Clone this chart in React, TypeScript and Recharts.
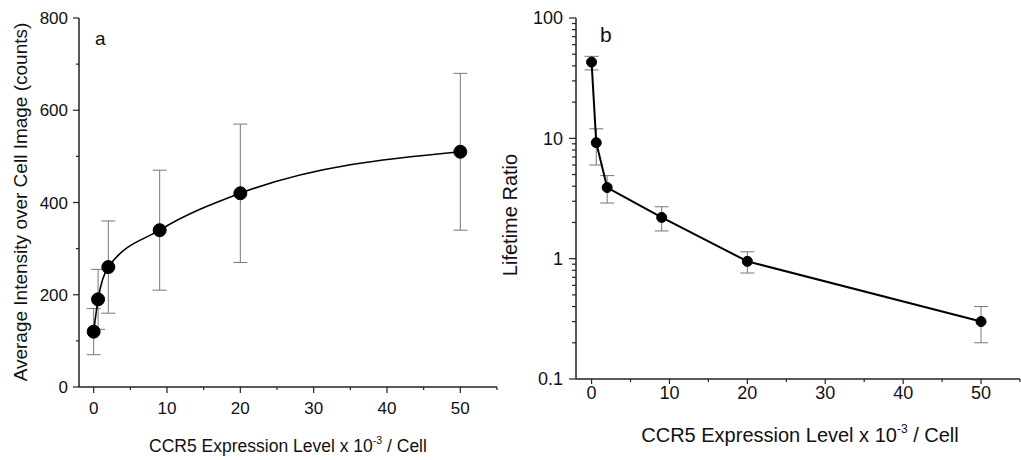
import React from 'react';
import { LineChart, Line, XAxis, YAxis, ErrorBar, Label } from 'recharts';

const FONT = '"Liberation Sans", Arial, Helvetica, sans-serif';

// CCR5 expression level (x 10^-3 / cell)
const expression = [0, 0.6, 2, 9, 20, 50];

// panel a
const intensity = [120, 190, 260, 340, 420, 510];
const intensityErr = [50, 65, 100, 130, 150, 170];

// panel b
const lifetime = [43, 9.2, 3.9, 2.2, 0.95, 0.3];
const lifetimeErrLow = [6, 3.2, 1.0, 0.5, 0.19, 0.1];
const lifetimeErrHigh = [5, 2.8, 1.0, 0.5, 0.19, 0.1];

const xTicks = [0, 5, 10, 15, 20, 25, 30, 35, 40, 45, 50, 55];
const intensityTicks = [0, 100, 200, 300, 400, 500, 600, 700, 800];
const lifetimeTicks = [
  0.1, 0.2, 0.3, 0.4, 0.5, 0.6, 0.7, 0.8, 0.9,
  1, 2, 3, 4, 5, 6, 7, 8, 9,
  10, 20, 30, 40, 50, 60, 70, 80, 90,
  100,
];

const intensityData = expression.map((x, i) => ({ x, y: intensity[i], err: intensityErr[i] }));
const lifetimeData = expression.map((x, i) => ({
  x,
  y: lifetime[i],
  err: [lifetimeErrLow[i], lifetimeErrHigh[i]],
}));

const isLogMajor = (v: number) => Math.abs(Math.log10(v) - Math.round(Math.log10(v))) < 1e-6;

const makeYTick = (isMajor: (v: number) => boolean, fontSize: number, majorLen: number, minorLen: number, gap: number) =>
  (props: any) => {
    const { x, y, payload } = props;
    const major = isMajor(payload.value);
    return (
      <g>
        <line x1={x} x2={x - (major ? majorLen : minorLen)} y1={y} y2={y} stroke="#222" strokeWidth={1.2} />
        {major && (
          <text x={x - gap} y={y} dy="0.36em" textAnchor="end" fontSize={fontSize} fontFamily={FONT} fill="#111">
            {String(payload.value)}
          </text>
        )}
      </g>
    );
  };

const makeXTick = (fontSize: number, majorLen: number, minorLen: number, gap: number) => (props: any) => {
  const { x, y, payload } = props;
  const major = payload.value % 10 === 0;
  return (
    <g>
      <line x1={x} x2={x} y1={y} y2={y + (major ? majorLen : minorLen)} stroke="#222" strokeWidth={1.2} />
      {major && (
        <text x={x} y={y + gap} dy="0.71em" textAnchor="middle" fontSize={fontSize} fontFamily={FONT} fill="#111">
          {String(payload.value)}
        </text>
      )}
    </g>
  );
};

const xTitle = (cx: number, baseline: number, size: number) => () => (
  <text x={cx} y={baseline} textAnchor="middle" fontSize={size} fontFamily={FONT} fill="#111">
    CCR5 Expression Level x 10
    <tspan dy={-size * 0.45} fontSize={size * 0.6}>-3</tspan>
    <tspan dy={size * 0.45} fontSize={size}> / Cell</tspan>
  </text>
);

const yTitle = (x: number, cy: number, size: number, value: string, letter: string, lx: number, ly: number, lsize: number) =>
  () => (
    <g>
      <text x={x} y={cy} transform={`rotate(-90 ${x} ${cy})`} textAnchor="middle" fontSize={size} fontFamily={FONT} fill="#111">
        {value}
      </text>
      <text x={lx} y={ly} fontSize={lsize} fontFamily={FONT} fill="#111">{letter}</text>
    </g>
  );

const App = () => {
  return (
    <div style={{ position: 'absolute', left: 0, top: 0, width: 1021, height: 460, background: '#fff' }}>
      <div style={{ position: 'absolute', left: 0, top: 0 }}>
        <LineChart width={510} height={460} data={intensityData} margin={{ top: 18, right: 13, bottom: 0, left: 0 }}>
          <XAxis
            type="number"
            dataKey="x"
            domain={[-2, 55]}
            ticks={xTicks}
            interval={0}
            allowDataOverflow
            height={73}
            tickSize={0}
            tickMargin={0}
            stroke="#222"
            strokeWidth={1.5}
            tick={makeXTick(17, 6, 3, 15)}
          >
            <Label content={xTitle(288, 452, 17.5)} />
          </XAxis>
          <YAxis
            type="number"
            domain={[0, 800]}
            ticks={intensityTicks}
            interval={0}
            width={79}
            tickSize={0}
            tickMargin={0}
            stroke="#222"
            strokeWidth={1.5}
            tick={makeYTick((v) => v % 200 === 0, 17, 6, 3, 11)}
          >
            <Label content={yTitle(27, 202, 19, 'Average  Intensity over Cell Image (counts)', 'a', 95, 45, 19)} />
          </YAxis>
          <Line
            type="monotone"
            dataKey="y"
            stroke="#000"
            strokeWidth={1.6}
            dot={{ r: 6.5, fill: '#000', stroke: '#000', strokeWidth: 1 }}
            activeDot={false}
            isAnimationActive={false}
          >
            <ErrorBar dataKey="err" direction="y" width={7} stroke="#777" strokeWidth={1} />
          </Line>
        </LineChart>
      </div>
      <div style={{ position: 'absolute', left: 500, top: 0 }}>
        <LineChart width={521} height={460} data={lifetimeData} margin={{ top: 18, right: 1, bottom: 0, left: 0 }}>
          <XAxis
            type="number"
            dataKey="x"
            domain={[-2, 55]}
            ticks={xTicks}
            interval={0}
            allowDataOverflow
            height={81}
            tickSize={0}
            tickMargin={0}
            stroke="#222"
            strokeWidth={1.5}
            tick={makeXTick(18, 5, 3, 7)}
          >
            <Label content={xTitle(300, 442, 20)} />
          </XAxis>
          <YAxis
            type="number"
            scale="log"
            domain={[0.1, 100]}
            ticks={lifetimeTicks}
            interval={0}
            allowDataOverflow
            width={76}
            tickSize={0}
            tickMargin={0}
            stroke="#222"
            strokeWidth={1.5}
            tick={makeYTick(isLogMajor, 18, 7, 4, 13)}
          >
            <Label content={yTitle(17, 215, 20, 'Lifetime Ratio', 'b', 100, 42, 21)} />
          </YAxis>
          <Line
            type="linear"
            dataKey="y"
            stroke="#000"
            strokeWidth={2}
            dot={{ r: 5, fill: '#000', stroke: '#000', strokeWidth: 1 }}
            activeDot={false}
            isAnimationActive={false}
          >
            <ErrorBar dataKey="err" direction="y" width={7} stroke="#777" strokeWidth={1} />
          </Line>
        </LineChart>
      </div>
    </div>
  );
};

export default App;
